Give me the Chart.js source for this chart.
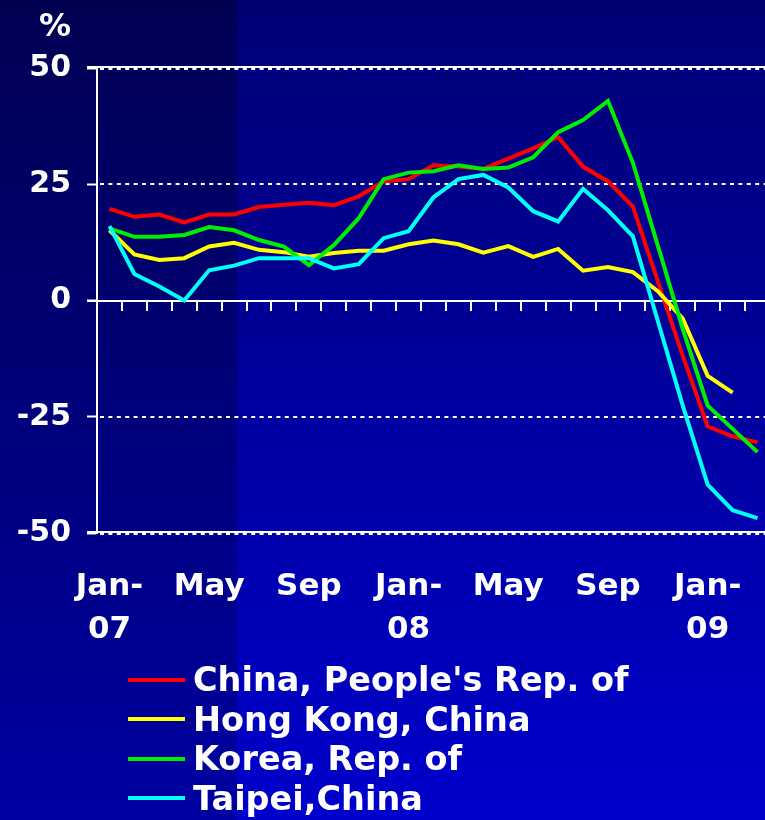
<!DOCTYPE html>
<html>
<head>
<meta charset="utf-8">
<script src="https://cdn.jsdelivr.net/npm/chart.js@4.4.0/dist/chart.umd.min.js"></script>
<style>
html, body { margin: 0; padding: 0; overflow: hidden; width: 765px; height: 820px; background: #000080; }
#wrap { position: relative; width: 765px; height: 820px; overflow: hidden; }
#chart { position: absolute; left: 0; top: 0; }
.unit { position: absolute; left: 39px; top: 9px; color: #fff; font: bold 32px "DejaVu Sans"; line-height: 32px; }
#legend { position: absolute; left: 128px; top: 660px; color: #fff; font: bold 33.5px "DejaVu Sans"; }
#legend .row { display: flex; align-items: center; height: 39.5px; white-space: nowrap; }
#legend .swatch { width: 57px; height: 4px; margin-right: 8px; }
</style>
</head>
<body>
<div id="wrap">
  <canvas id="chart" width="770" height="820"></canvas>
  <div class="unit">%</div>
  <div id="legend"></div>
</div>
<script>
// monthly values, Jan 2007 .. Mar 2009
const months = ['Jan-07','Feb-07','Mar-07','Apr-07','May-07','Jun-07','Jul-07','Aug-07','Sep-07','Oct-07','Nov-07','Dec-07',
                'Jan-08','Feb-08','Mar-08','Apr-08','May-08','Jun-08','Jul-08','Aug-08','Sep-08','Oct-08','Nov-08','Dec-08',
                'Jan-09','Feb-09','Mar-09'];
const tickText = [['Jan-','07'],'','','',['May'],'','','',['Sep'],'','','',
                  ['Jan-','08'],'','','',['May'],'','','',['Sep'],'','','',
                  ['Jan-','09'],'',''];
const yTicks = [-50, -25, 0, 25, 50];

const china   = [19.7, 18.0, 18.5, 16.8, 18.5, 18.5, 20.1, 20.6, 21.0, 20.5, 22.4, 25.6, 26.1, 29.1, 28.8, 28.3, 30.5, 32.7, 35.1, 28.8, 25.6, 20.2, 4.1, -11.9, -27.1, -29.2, -30.5];
const hongKong = [15.1, 9.9, 8.7, 9.1, 11.6, 12.4, 10.9, 10.4, 9.4, 10.2, 10.7, 10.7, 12.1, 12.9, 12.1, 10.3, 11.7, 9.4, 11.1, 6.4, 7.2, 6.1, 2.0, -3.9, -16.2, -19.8, null];
const korea   = [15.5, 13.7, 13.7, 14.1, 15.8, 15.1, 13.0, 11.6, 7.6, 11.9, 17.7, 26.1, 27.5, 27.8, 29.1, 28.3, 28.6, 30.8, 36.2, 38.8, 42.9, 29.6, 11.8, -6.1, -22.6, -27.6, -32.6];
const taipei  = [16.0, 5.7, 3.0, 0.0, 6.5, 7.5, 9.1, 9.1, 9.1, 6.9, 7.8, 13.4, 14.9, 22.2, 26.1, 27.0, 24.3, 19.2, 17.0, 24.0, 19.4, 13.8, -4.4, -22.6, -39.6, -45.1, -46.8];

const series = [
    { label: "China, People's Rep. of", data: china,    color: '#ff0000', order: 4 },
    { label: 'Hong Kong, China',        data: hongKong, color: '#ffff00', order: 3 },
    { label: 'Korea, Rep. of',          data: korea,    color: '#00ee00', order: 2 },
    { label: 'Taipei,China',            data: taipei,   color: '#00ffff', order: 1 }
];

const FONT = 'DejaVu Sans';
const SPLIT_X = 237;

// two-panel gradient background
const backdrop = {
    id: 'backdrop',
    beforeDraw: function (chart) {
        const ctx = chart.ctx, w = chart.width, h = chart.height;
        ctx.save();
        let g = ctx.createLinearGradient(0, 0, 0, h);
        g.addColorStop(0, '#000052');
        g.addColorStop(1, '#0000a2');
        ctx.fillStyle = g;
        ctx.fillRect(0, 0, SPLIT_X, h);
        g = ctx.createLinearGradient(0, 0, 0, h);
        g.addColorStop(0, '#000074');
        g.addColorStop(1, '#0000cc');
        ctx.fillStyle = g;
        ctx.fillRect(SPLIT_X, 0, w - SPLIT_X, h);
        ctx.restore();
    }
};

// dotted grid, solid frame lines and tick marks on the zero line
const gridLines = {
    id: 'gridLines',
    beforeDatasetsDraw: function (chart) {
        const ctx = chart.ctx, a = chart.chartArea;
        const x = chart.scales.x, y = chart.scales.y;
        ctx.save();
        ctx.strokeStyle = '#ffffff';
        ctx.lineWidth = 2;
        yTicks.forEach(function (v) {
            const py = Math.round(y.getPixelForValue(v));
            if (v !== 0) {
                ctx.setLineDash([4, 4.4]);
                ctx.beginPath();
                ctx.moveTo(a.left + 3, py + (Math.abs(v) === 50 ? 1 : 0));
                ctx.lineTo(a.right, py + (Math.abs(v) === 50 ? 1 : 0));
                ctx.stroke();
            }
            if (v === 0 || Math.abs(v) === 50) {
                ctx.setLineDash([]);
                ctx.beginPath();
                ctx.moveTo(a.left - 10, py - (v === 0 ? 0 : 1));
                ctx.lineTo(a.right, py - (v === 0 ? 0 : 1));
                ctx.stroke();
            }
        });
        ctx.setLineDash([]);
        const zy = Math.round(y.getPixelForValue(0));
        const half = (x.getPixelForValue(1) - x.getPixelForValue(0)) / 2;
        for (let i = 1; i < months.length; i++) {
            const bx = Math.round(x.getPixelForValue(i) - half);
            ctx.beginPath();
            ctx.moveTo(bx, zy);
            ctx.lineTo(bx, zy + 10);
            ctx.stroke();
        }
        ctx.restore();
    }
};

new Chart(document.getElementById('chart'), {
    type: 'line',
    data: {
        labels: months,
        datasets: series.map(function (s) {
            return {
                label: s.label,
                data: s.data,
                borderColor: s.color,
                backgroundColor: s.color,
                borderWidth: 4,
                pointRadius: 0,
                tension: 0,
                fill: false,
                order: s.order
            };
        })
    },
    options: {
        responsive: false,
        animation: false,
        layout: { padding: { top: 68, left: 0, right: 0, bottom: 0 } },
        plugins: { legend: { display: false }, tooltip: { enabled: false } },
        scales: {
            x: {
                type: 'category',
                offset: true,
                grid: { display: false },
                border: { display: false },
                ticks: {
                    autoSkip: false, maxRotation: 0, padding: 24,
                    color: '#ffffff',
                    font: { family: FONT, weight: 'bold', size: 31, lineHeight: 1.4 },
                    callback: function (v, i) { return tickText[i]; }
                },
                afterFit: function (s) { s.height = 287; s.paddingLeft = 0; s.paddingRight = 0; }
            },
            y: {
                min: -50, max: 50,
                afterBuildTicks: function (s) { s.ticks = yTicks.map(function (v) { return { value: v }; }); },
                grid: { drawOnChartArea: false, tickLength: 10, tickColor: '#ffffff', tickWidth: 2 },
                border: { display: true, color: '#ffffff', width: 2 },
                ticks: {
                    padding: 16, color: '#ffffff',
                    font: { family: FONT, weight: 'bold', size: 30 }
                },
                afterFit: function (s) { s.width = 97; }
            }
        }
    },
    plugins: [backdrop, gridLines]
});

// legend, one entry per line
const legend = document.getElementById('legend');
series.forEach(function (s) {
    const row = document.createElement('div');
    row.className = 'row';
    const sw = document.createElement('span');
    sw.className = 'swatch';
    sw.style.background = s.color;
    const txt = document.createElement('span');
    txt.textContent = s.label;
    row.appendChild(sw);
    row.appendChild(txt);
    legend.appendChild(row);
});
</script>
</body>
</html>
